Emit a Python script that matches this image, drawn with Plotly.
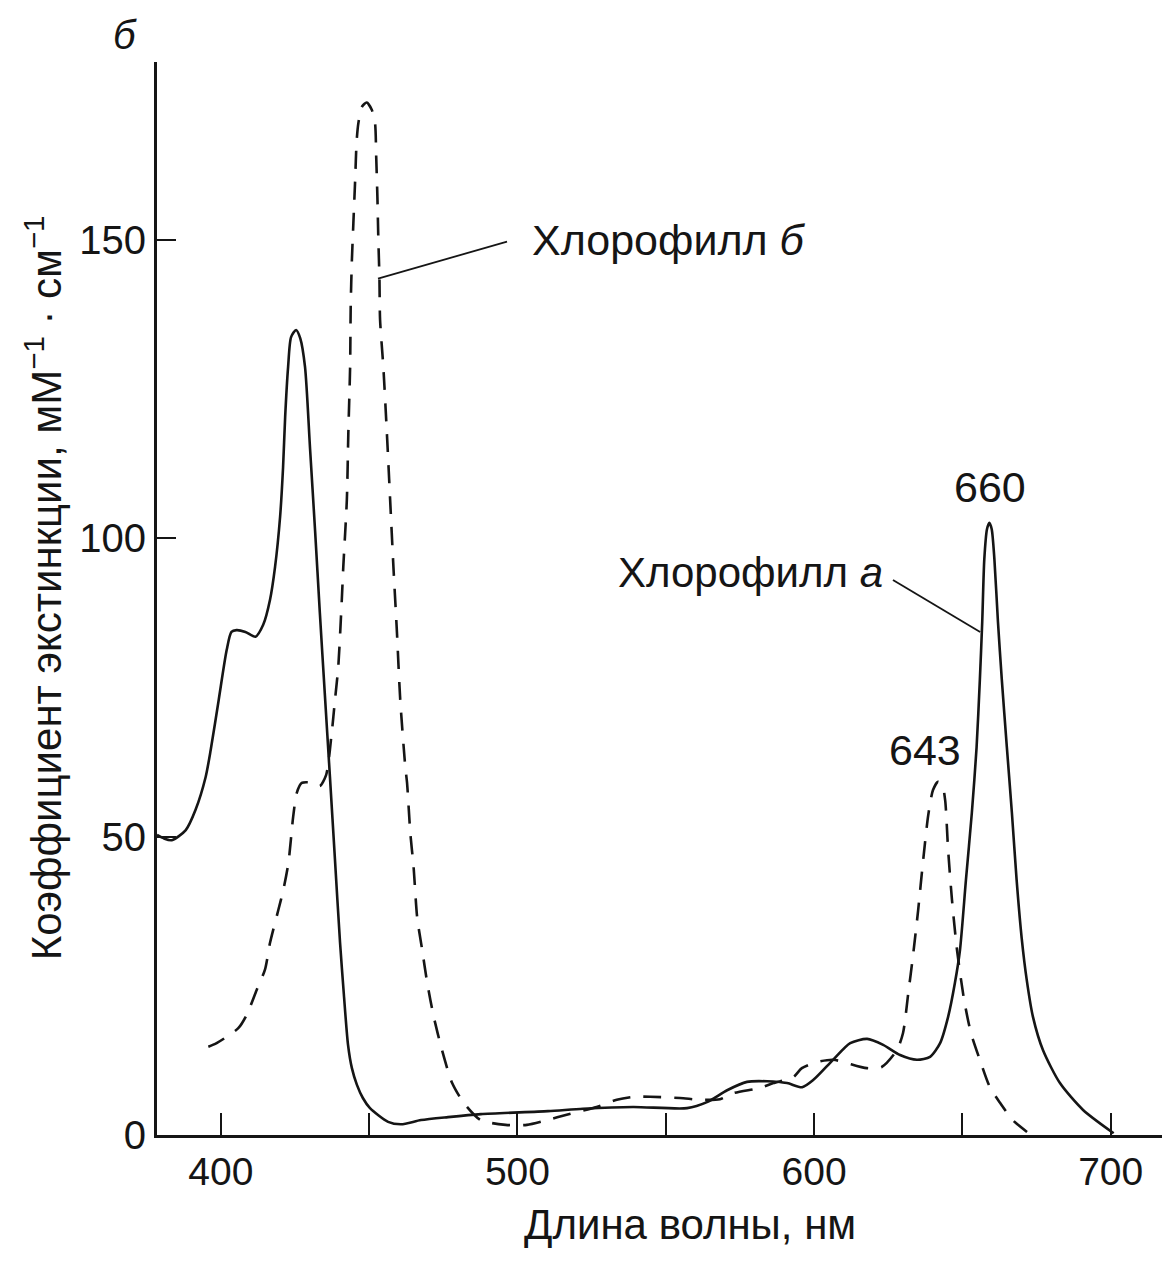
import plotly.graph_objects as go

# Chlorophyll a (solid line): wavelength (nm) and extinction coefficient
chl_a_nm = [378.5, 380.8, 383.5, 388.2, 391.5, 394.9, 396.6, 399.3, 402.0, 403.6, 405.3, 408.3,
            411.7, 414.3, 416.6, 418.3, 420.0, 421.0, 421.7, 422.7, 423.7, 425.4, 426.8, 428.4,
            430.1, 431.8, 433.4, 435.1, 436.8, 438.5, 440.2, 441.5, 442.9, 444.2, 445.9, 447.9,
            450.3, 456.4, 460.8, 467.5, 476.6, 487.7, 510.3, 522.1, 539.0, 557.2, 563.9, 570.7,
            577.4, 584.2, 590.9, 596.0, 599.7, 606.4, 612.2, 617.9, 623.3, 629.0, 634.7, 639.1,
            642.5, 645.2, 647.5, 649.2, 651.2, 653.2, 654.8, 655.9, 656.7, 657.4, 658.3, 659.1,
            659.9, 660.8, 662.0, 663.3, 665.0, 666.7, 668.3, 670.0, 671.7, 673.8, 677.2, 682.9,
            690.7, 701.0]
chl_a_val = [50.3, 49.7, 49.4, 51.1, 54.5, 60.0, 64.5, 72.9, 81.3, 84.3, 84.6, 84.3,
             83.5, 85.5, 89.7, 95.2, 103.6, 111.9, 120.3, 128.7, 133.7, 134.9, 133.5, 128.7,
             115.0, 101.2, 87.5, 73.7, 60.0, 46.1, 32.3, 23.5, 15.1, 11.2, 8.4, 6.2,
             4.5, 2.2, 1.8, 2.5, 3.0, 3.5, 4.0, 4.4, 4.7, 4.5, 5.5, 7.5,
             8.9, 9.0, 8.7, 8.0, 9.2, 12.6, 15.4, 16.1, 15.1, 13.4, 12.6, 13.1,
             15.4, 19.8, 25.5, 31.0, 42.7, 54.0, 65.0, 76.3, 86.0, 96.5, 101.5, 102.6,
             101.5, 96.5, 86.0, 76.3, 65.0, 54.0, 42.7, 33.0, 26.0, 19.8, 14.2, 8.7,
             4.2, 0.3]

# Chlorophyll b (dashed line)
chl_b_nm = [395.8, 398.6, 405.9, 408.7, 412.1, 414.9, 416.6, 419.4, 421.1, 422.8, 424.4, 425.6,
            427.3, 429.5, 431.2, 433.4, 435.5, 437.4, 438.5, 439.6, 440.8, 441.3, 442.5, 443.0,
            443.6, 443.8, 444.2, 444.7, 445.3, 445.8, 446.4, 447.6, 449.2, 450.9, 452.0, 452.4,
            452.8, 453.1, 453.5, 453.7, 454.8, 456.0, 457.1, 458.2, 459.4, 460.5, 462.2, 462.8,
            463.9, 465.0, 466.2, 467.9, 469.6, 471.8, 474.6, 478.0, 481.9, 487.6, 496.0, 503.2,
            510.0, 516.6, 526.7, 533.5, 539.1, 544.7, 554.8, 561.6, 568.3, 572.8, 581.8, 586.3,
            593.0, 595.9, 600.9, 606.5, 617.8, 622.8, 627.9, 630.0, 631.7, 633.4, 635.1, 636.8,
            638.5, 640.1, 641.8, 643.2, 644.2, 645.2, 646.5, 648.2, 650.6, 652.9, 655.9, 659.3,
            662.7, 667.0, 671.8]
chl_b_val = [14.8, 15.4, 17.9, 20.1, 24.3, 27.7, 32.2, 37.7, 41.1, 45.6, 53.3, 57.3,
             59.0, 59.1, 59.0, 58.5, 60.3, 67.4, 72.9, 78.4, 89.7, 95.2, 106.4, 117.6,
             128.7, 138.8, 146.6, 152.8, 160.0, 166.5, 169.6, 172.3, 173.0, 171.8, 169.6, 163.9,
             157.2, 150.5, 143.3, 136.6, 128.7, 117.6, 106.4, 95.2, 84.1, 72.9, 61.7, 59.0,
             50.6, 44.9, 36.5, 31.0, 25.5, 19.8, 14.2, 8.7, 5.4, 2.5, 1.7, 1.7,
             2.5, 3.4, 4.7, 5.9, 6.4, 6.4, 6.2, 5.9, 6.0, 7.0, 7.9, 8.7,
             9.7, 11.2, 12.2, 12.6, 11.2, 11.4, 14.2, 17.1, 23.5, 30.2, 37.7, 46.1,
             53.6, 57.8, 59.2, 58.7, 56.1, 47.8, 39.4, 31.0, 22.6, 17.1, 12.6, 8.0,
             5.4, 2.5, 0.5]

x_tickvals = [400, 450, 500, 550, 600, 650, 700]
x_ticktext = ["400", "", "500", "", "600", "", "700"]
y_tickvals = [0, 50, 100, 150]
y_ticktext = ["0", "50", "100", "150"]

FONT = "Liberation Sans, Arial, sans-serif"
INK = "#151515"

fig = go.Figure()
fig.add_trace(go.Scatter(x=chl_a_nm, y=chl_a_val, mode="lines",
                         line=dict(color=INK, width=2.6, shape="spline", smoothing=0.7),
                         name="Хлорофилл a", showlegend=False, cliponaxis=False))
fig.add_trace(go.Scatter(x=chl_b_nm, y=chl_b_val, mode="lines",
                         line=dict(color=INK, width=2.6, dash="18px,13px", shape="spline", smoothing=0.7),
                         name="Хлорофилл б", showlegend=False, cliponaxis=False))

# The page body has an 8 px default margin, so the figure is sized to fit the window
# without scrollbars.
fig.update_layout(
    template="none",
    width=1162, height=1244, autosize=False,
    margin=dict(l=149, r=0, t=54, b=117, pad=0),
    paper_bgcolor="white", plot_bgcolor="white",
    font=dict(family=FONT, color=INK, size=40),
    showlegend=False,
    xaxis=dict(range=[378.5, 720], tickvals=x_tickvals, ticktext=x_ticktext,
               ticks="inside", ticklen=22, tickwidth=2.2, tickcolor=INK,
               showline=True, linewidth=2.8, linecolor=INK, showgrid=False, zeroline=False,
               automargin=False, tickfont=dict(size=39, family=FONT, color=INK), ticklabelstandoff=0),
    yaxis=dict(range=[0, 179.8], tickvals=y_tickvals, ticktext=y_ticktext,
               ticks="inside", ticklen=19, tickwidth=2.2, tickcolor=INK,
               showline=True, linewidth=2.8, linecolor=INK, showgrid=False, zeroline=False,
               automargin=False, tickfont=dict(size=40, family=FONT, color=INK), ticklabelstandoff=0),
)

annotations = [
    dict(text="Длина волны, нм", xref="paper", yref="paper", x=0.526, y=-0.083,
         showarrow=False, font=dict(size=42, family=FONT, color=INK), xanchor="center", yanchor="middle"),
    dict(text="Коэффициент экстинкции, мМ<sup>−1</sup> · см<sup>−1</sup>", xref="paper", yref="paper",
         x=-0.112, y=0.51, textangle=-90, showarrow=False,
         font=dict(size=42, family=FONT, color=INK), xanchor="center", yanchor="middle"),
    dict(text="<i>б</i>", xref="paper", yref="paper", x=-0.032, y=1.025, showarrow=False,
         font=dict(size=40, family=FONT, color=INK), xanchor="center", yanchor="middle"),
    dict(text="Хлорофилл <i>б</i>", x=504.3, y=150.0, xref="x", yref="y", showarrow=False,
         font=dict(size=43, family=FONT, color=INK), xanchor="left", yanchor="middle"),
    dict(text="Хлорофилл <i>а</i>", x=623.9, y=94.2, xref="x", yref="y", showarrow=False,
         font=dict(size=42, family=FONT, color=INK), xanchor="right", yanchor="middle"),
    dict(text="660", x=659.4, y=108.6, xref="x", yref="y", showarrow=False,
         font=dict(size=43, family=FONT, color=INK), xanchor="center", yanchor="middle"),
    dict(text="643", x=637.5, y=64.5, xref="x", yref="y", showarrow=False,
         font=dict(size=43, family=FONT, color=INK), xanchor="center", yanchor="middle"),
]
fig.update_layout(annotations=annotations)

# Leader lines from labels to curves
fig.add_shape(type="line", xref="x", yref="y", x0=496.5, y0=149.7, x1=453.0, y1=143.5,
              line=dict(color=INK, width=1.8))
fig.add_shape(type="line", xref="x", yref="y", x0=626.6, y0=93.0, x1=656.0, y1=84.3,
              line=dict(color=INK, width=1.8))

fig.write_html("out.html")
